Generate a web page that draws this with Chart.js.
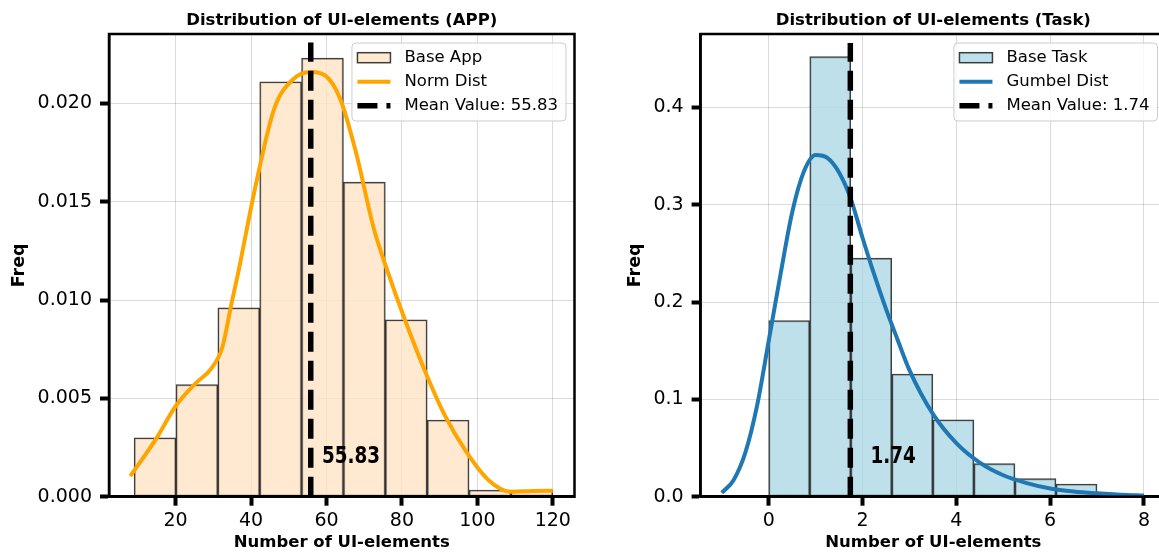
<!DOCTYPE html>
<html>
<head>
<meta charset="utf-8">
<script src="https://cdn.jsdelivr.net/npm/chart.js@4.4.1/dist/chart.umd.min.js"></script>
<style>
  html, body { margin: 0; padding: 0; background: #fff; overflow: hidden; width: 1159px; height: 553px; }
  #appWrap { position: absolute; left: 0; top: 0; width: 580px; height: 553px; }
  #taskWrap { position: absolute; left: 580px; top: 0; width: 590px; height: 553px; }
</style>
</head>
<body>
<div id="appWrap"><canvas id="appChart" width="580" height="553"></canvas></div>
<div id="taskWrap"><canvas id="taskChart" width="590" height="553"></canvas></div>
<script>
// --- APP panel data ---
var appBinCenters = [14.55, 25.65, 36.75, 47.85, 58.95, 70.05, 81.15, 92.25, 103.35, 114.45];
var appDensity = [0.0030, 0.0057, 0.0096, 0.0211, 0.0223, 0.0160, 0.0090, 0.0039, 0.00034, 0.00034];
var appCurveX = [8, 14.7, 20, 25.5, 29.4, 32.4, 34.8, 36.5, 41.2, 46.1, 51.0, 55.9, 59.8, 63.7, 67.7, 72.6, 76.5, 80.4, 86.3, 91.2, 97.0, 102.9, 108.8, 114.7, 120];
var appCurveY = [0.00105, 0.0029, 0.0046, 0.0058, 0.0065, 0.0076, 0.0098, 0.0113, 0.0158, 0.0197, 0.0212, 0.0216, 0.0214, 0.0202, 0.0176, 0.0136, 0.0113, 0.0092, 0.0063, 0.0042, 0.0023, 0.00085, 0.00025, 0.00029, 0.0003];
var appMean = 55.83;
var appXTicks = [20, 40, 60, 80, 100, 120];
var appYTicks = [0, 0.005, 0.010, 0.015, 0.020];

// --- Task panel data ---
var taskBinCenters = [0.4375, 1.3125, 2.1875, 3.0625, 3.9375, 4.8125, 5.6875, 6.5625];
var taskDensity = [0.181, 0.452, 0.245, 0.126, 0.079, 0.034, 0.0185, 0.013];
var taskCurveX = [-1.0, -0.75, -0.5, -0.25, 0, 0.25, 0.5, 0.75, 1.0, 1.25, 1.5, 1.75, 2.0, 2.25, 2.5, 2.75, 3.0, 3.5, 4.0, 4.5, 5.0, 5.5, 6.0, 6.5, 7.0, 7.5, 8.0];
var taskCurveY = [0.004, 0.017, 0.045, 0.093, 0.160, 0.228, 0.292, 0.334, 0.351, 0.348, 0.333, 0.306, 0.266, 0.228, 0.193, 0.161, 0.130, 0.085, 0.055, 0.035, 0.022, 0.014, 0.0085, 0.0054, 0.0035, 0.0021, 0.0013];
var taskMean = 1.74;
var taskXTicks = [0, 2, 4, 6, 8];
var taskYTicks = [0, 0.1, 0.2, 0.3, 0.4];

Chart.defaults.font.family = '"DejaVu Sans", sans-serif';
Chart.defaults.color = '#000';

var decor = {
  id: 'decor',
  afterDatasetsDraw: function(chart, args, o) {
    var ctx = chart.ctx, a = chart.chartArea;
    ctx.save();
    // axes frame
    ctx.strokeStyle = '#000';
    ctx.lineWidth = 2.5;
    ctx.strokeRect(a.left, a.top, a.right - a.left, a.bottom - a.top);

    // title
    ctx.fillStyle = '#000';
    ctx.font = 'bold 16.5px "DejaVu Sans"';
    ctx.textAlign = 'center';
    ctx.textBaseline = 'alphabetic';
    ctx.fillText(o.title, (a.left + a.right) / 2, 25);

    // mean value label
    ctx.save();
    ctx.translate(chart.scales.x.getPixelForValue(o.labelX), chart.scales.y.getPixelForValue(o.labelY));
    ctx.scale(0.8, 1);
    ctx.font = 'bold 23px "DejaVu Sans"';
    ctx.textAlign = 'left';
    ctx.textBaseline = 'middle';
    ctx.fillText(o.labelText, 0, 0);
    ctx.restore();

    // legend
    ctx.font = '16.5px "DejaVu Sans"';
    var tw = 0;
    o.legend.forEach(function(it) { tw = Math.max(tw, ctx.measureText(it.text).width); });
    var w = 5.5 + 33 + 14 + tw + 8, h = 78;
    var right = a.right - 8.5, top = a.top + 9, left = right - w;
    ctx.beginPath();
    ctx.roundRect(left, top, w, h, 4);
    ctx.fillStyle = 'rgba(255,255,255,0.8)';
    ctx.fill();
    ctx.strokeStyle = '#cccccc';
    ctx.lineWidth = 1;
    ctx.stroke();
    o.legend.forEach(function(it, i) {
      var cy = top + 14.7 + i * 24;
      var hx = left + 5.5;
      ctx.save();
      if (it.kind === 'rect') {
        ctx.fillStyle = it.fill;
        ctx.fillRect(hx, cy - 5, 33, 10);
        ctx.strokeStyle = it.stroke;
        ctx.lineWidth = 1.5;
        ctx.strokeRect(hx, cy - 5, 33, 10);
      } else {
        ctx.strokeStyle = it.stroke;
        ctx.lineWidth = it.width;
        ctx.setLineDash(it.dash || []);
        ctx.beginPath();
        ctx.moveTo(hx, cy);
        ctx.lineTo(hx + 33, cy);
        ctx.stroke();
      }
      ctx.restore();
      ctx.fillStyle = '#000';
      ctx.textAlign = 'left';
      ctx.textBaseline = 'middle';
      ctx.fillText(it.text, left + 52.5, cy);
    });
    ctx.restore();
  }
};

function makeChart(id, cfg) {
  var tickFont = { family: '"DejaVu Sans"', size: 19 };
  var titleFont = { family: '"DejaVu Sans"', size: 16.5, weight: 'bold' };
  var yTitleFont = { family: '"DejaVu Sans"', size: 17.5, weight: 'bold' };
  var grid = { offset: false, color: 'rgba(0,0,0,0.14)', lineWidth: 1, tickColor: '#000', tickWidth: 4, tickLength: 9, drawTicks: true };
  return new Chart(document.getElementById(id), {
    type: 'bar',
    data: {
      datasets: [
        {
          type: 'line',
          label: 'Mean Value: ' + cfg.mean.toFixed(2),
          data: [{ x: cfg.mean, y: 0 }, { x: cfg.mean, y: cfg.meanTop }],
          borderColor: '#000',
          borderWidth: 5.5,
          borderDash: [20, 9],
          pointRadius: 0,
          order: 1
        },
        {
          type: 'line',
          label: cfg.curveLabel,
          data: cfg.curveX.map(function(x, i) { return { x: x, y: cfg.curveY[i] }; }),
          borderColor: cfg.curveColor,
          borderWidth: 4,
          pointRadius: 0,
          cubicInterpolationMode: 'monotone',
          order: 2
        },
        {
          type: 'bar',
          label: cfg.barLabel,
          data: cfg.centers.map(function(c, i) { return { x: c, y: cfg.density[i] }; }),
          backgroundColor: cfg.barFill,
          borderColor: 'rgba(0,0,0,0.75)',
          borderWidth: 1.5,
          borderSkipped: false,
          barPercentage: 1,
          categoryPercentage: 1,
          order: 3
        }
      ]
    },
    options: {
      responsive: false,
      animation: false,
      devicePixelRatio: 1,
      events: [],
      layout: { padding: { top: 34, right: cfg.padRight, left: 0, bottom: 0 } },
      plugins: {
        legend: { display: false },
        tooltip: { enabled: false },
        decor: {
          title: cfg.title,
          labelX: cfg.labelX,
          labelY: cfg.labelY,
          labelText: cfg.mean.toFixed(2),
          legend: [
            { kind: 'rect', text: cfg.barLabel, fill: cfg.barFill, stroke: 'rgba(0,0,0,0.75)' },
            { kind: 'line', text: cfg.curveLabel, stroke: cfg.curveColor, width: 4 },
            { kind: 'line', text: 'Mean Value: ' + cfg.mean.toFixed(2), stroke: '#000', width: 5.5, dash: [20, 9] }
          ]
        }
      },
      scales: {
        x: {
          type: 'linear',
          offset: false,
          min: cfg.xMin,
          max: cfg.xMax,
          afterBuildTicks: function(s) { s.ticks = cfg.xTicks.map(function(v) { return { value: v }; }); },
          afterFit: function(s) { s.height = 56.3; },
          ticks: { font: tickFont, color: '#000', padding: 4, maxRotation: 0, callback: function(v) { return String(v); } },
          grid: grid,
          border: { color: '#000', width: 2.5 },
          title: { display: true, text: 'Number of UI-elements', font: titleFont, color: '#000', padding: 0 }
        },
        y: {
          min: 0,
          max: cfg.yMax,
          afterBuildTicks: function(s) { s.ticks = cfg.yTicks.map(function(v) { return { value: v }; }); },
          afterFit: function(s) { s.width = cfg.yAxisWidth; },
          ticks: { font: tickFont, color: '#000', padding: 8, callback: function(v) { return v.toFixed(cfg.yDecimals); } },
          grid: grid,
          border: { color: '#000', width: 2.5 },
          title: { display: true, text: 'Freq', font: yTitleFont, color: '#000', padding: { top: cfg.yTitlePad, bottom: 0 } }
        }
      }
    },
    plugins: [decor]
  });
}

makeChart('appChart', {
  title: 'Distribution of UI-elements (APP)',
  centers: appBinCenters, density: appDensity,
  curveX: appCurveX, curveY: appCurveY,
  mean: appMean, meanTop: 0.0231,
  barLabel: 'Base App', curveLabel: 'Norm Dist',
  barFill: 'rgba(255,228,196,0.8)', curveColor: '#FFA500',
  xMin: 2.35, xMax: 125.75, xTicks: appXTicks,
  yMax: 0.02353, yTicks: appYTicks, yDecimals: 3,
  labelX: 58.8, labelY: 0.00203,
  yAxisWidth: 109, yTitlePad: 8.5, padRight: 5.5
});

makeChart('taskChart', {
  title: 'Distribution of UI-elements (Task)',
  centers: taskBinCenters, density: taskDensity,
  curveX: taskCurveX, curveY: taskCurveY,
  mean: taskMean, meanTop: 0.466,
  barLabel: 'Base Task', curveLabel: 'Gumbel Dist',
  barFill: 'rgba(173,216,230,0.8)', curveColor: '#1f77b4',
  xMin: -1.452, xMax: 8.47, xTicks: taskXTicks,
  yMax: 0.4753, yTicks: taskYTicks, yDecimals: 1,
  labelX: 2.17, labelY: 0.041,
  yAxisWidth: 120.6, yTitlePad: 45, padRight: 4
});
</script>
</body>
</html>
